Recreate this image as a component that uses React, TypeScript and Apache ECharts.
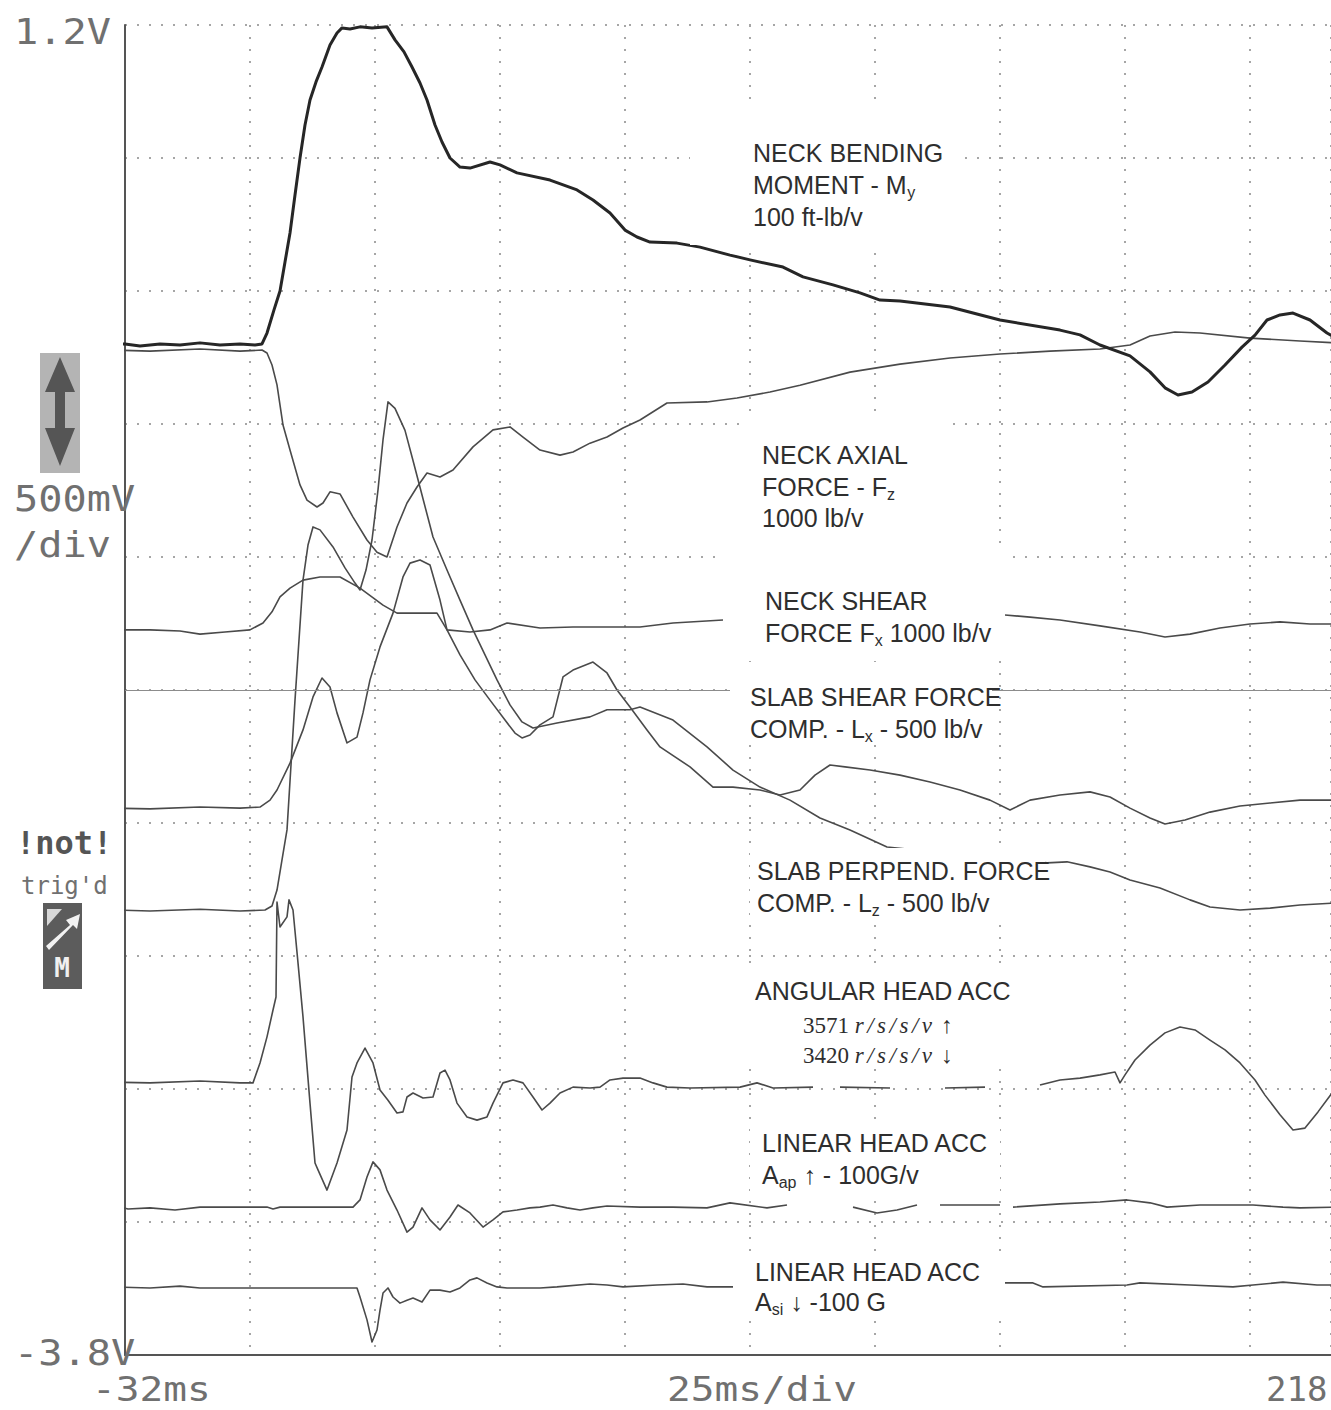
import React, { useEffect, useRef } from "react";
import * as echarts from "echarts";

// Oscilloscope axes
const X_MIN = -32;
const X_VIEW_MAX = 209.2; // right edge of the photographed screen (full screen ends at 218 ms)
const X_DIV = 25; // ms/div
const Y_MIN = -3.8;
const Y_MAX = 1.2;
const Y_DIV = 0.5; // V/div
const CENTER_V = -1.3;

// Traces: [time ms, volts]; null = gap in the trace
type P = [number, number] | null;

const neckBendingMy: P[] = [
  [-34.6, -0.003], [-32, 0.001], [-29, -0.007], [-25, 0.001], [-21, -0.003], [-17, 0.005], [-13, -0.003],
  [-9, 0.001], [-6, -0.003], [-4.6, 0.001], [-3.6, 0.042], [-2.2, 0.129], [-1, 0.2], [0, 0.309], [1, 0.418],
  [2, 0.561], [3, 0.7], [4, 0.824], [5, 0.918], [6.2, 0.986], [7.4, 1.042], [9, 1.125], [10.4, 1.17],
  [11.4, 1.189], [13, 1.185], [15, 1.193], [17.4, 1.189], [20.4, 1.193], [22, 1.144], [23.8, 1.099],
  [25.4, 1.042], [27, 0.982], [28.4, 0.918], [30, 0.824], [31.4, 0.76], [33, 0.7], [35, 0.666], [37, 0.662],
  [41, 0.685], [43, 0.674], [46.4, 0.644], [53, 0.617], [58.4, 0.58], [61.6, 0.542], [65, 0.493], [68, 0.429],
  [70.4, 0.403], [73, 0.384], [78.4, 0.38], [83, 0.365], [89, 0.335], [93, 0.317], [99.6, 0.29], [103.6, 0.253],
  [109.6, 0.223], [115, 0.193], [119, 0.166], [123, 0.162], [133, 0.14], [143, 0.091], [155, 0.053],
  [159, 0.035], [163, -0.003], [169, -0.044], [173, -0.104], [176, -0.164], [178.6, -0.191], [181.4, -0.18],
  [184.6, -0.142], [188, -0.078], [191.4, -0.011], [194, 0.034], [196.4, 0.091], [199, 0.11], [201.6, 0.117],
  [205, 0.091], [208.4, 0.042], [210, 0.025],
];

const neckAxialFz: P[] = [
  [-34.6, -0.022], [-27, -0.026], [-17, -0.018], [-9, -0.026], [-4.6, -0.022], [-3.6, -0.033], [-2.6, -0.078],
  [-1.6, -0.153], [-0.4, -0.304], [1, -0.398], [3, -0.529], [4.4, -0.586], [6.4, -0.612], [7.6, -0.597],
  [9, -0.555], [11, -0.563], [13.6, -0.65], [16.4, -0.736], [18.4, -0.782], [20.4, -0.8], [22.4, -0.687],
  [24.4, -0.597], [26.4, -0.537], [28.4, -0.484], [31, -0.499], [33.6, -0.473], [37.6, -0.386], [41.6, -0.322],
  [45, -0.311], [47.6, -0.349], [51, -0.398], [55, -0.417], [57.6, -0.405], [61, -0.372], [64.4, -0.349],
  [67.6, -0.315], [71, -0.285], [76.4, -0.221], [84.4, -0.217], [90.4, -0.202], [97, -0.18], [103, -0.154],
  [113, -0.105], [123, -0.075], [133, -0.052], [143, -0.037], [153, -0.026], [163, -0.018], [169, -0.003],
  [173, 0.031], [178, 0.046], [183, 0.042], [193, 0.023], [203, 0.012], [210, 0.005],
];

const neckShearFx: P[] = [
  [-34.6, -1.074], [-27, -1.074], [-21, -1.078], [-17, -1.09], [-12, -1.082], [-7, -1.074], [-4.4, -1.048],
  [-2.6, -1.006], [-1, -0.95], [1, -0.917], [3.6, -0.887], [7, -0.875], [11, -0.875], [15, -0.917],
  [19.6, -0.981], [22.4, -1.011], [30.4, -1.011], [32.4, -1.074], [37, -1.082], [41, -1.074], [44.4, -1.048],
  [51, -1.067], [57.6, -1.063], [71, -1.063], [77.6, -1.048], [87.6, -1.037], null,
  [144, -1.018], [149, -1.026], [155, -1.037], [163, -1.059], [171, -1.082], [176, -1.101], [181, -1.09],
  [187, -1.067], [193, -1.052], [199, -1.044], [205, -1.052], [210, -1.052],
];

const slabShearLx: P[] = [
  [-34.6, -1.744], [-27, -1.747], [-17, -1.74], [-9, -1.744], [-5, -1.74], [-3, -1.714], [-1.6, -1.676],
  [1, -1.575], [3.6, -1.45], [5.6, -1.326], [7.4, -1.255], [9, -1.289], [10.4, -1.386], [12.4, -1.499],
  [14.4, -1.477], [15.6, -1.386], [17, -1.262], [19, -1.138], [21.6, -1.011], [23.6, -0.875], [25, -0.823],
  [27, -0.811], [29, -0.83], [31, -0.962], [32.4, -1.074], [35, -1.168], [38, -1.262], [41, -1.338],
  [44, -1.413], [46, -1.462], [47.4, -1.48], [49, -1.469], [51, -1.431], [53.6, -1.401], [55.6, -1.251],
  [57.6, -1.225], [61.6, -1.195], [64.4, -1.236], [66.4, -1.3], [69, -1.364], [72.4, -1.45], [75, -1.514],
  [81, -1.589], [85.6, -1.665], [89.6, -1.665], [95, -1.676], [99, -1.695], [103, -1.676], [106, -1.62],
  [109, -1.582], [112, -1.589], [117, -1.601], [123, -1.62], [129, -1.646], [135, -1.676], [141, -1.714],
  [145, -1.751], [149, -1.714], [155, -1.695], [161, -1.683], [165, -1.702], [169, -1.744], [173, -1.781],
  [176, -1.804], [180, -1.789], [185, -1.759], [191, -1.736], [197, -1.725], [203, -1.714], [210, -1.714],
];

const slabPerpLz: P[] = [
  [-34.6, -2.127], [-27, -2.131], [-17, -2.124], [-9, -2.131], [-4, -2.127], [-2.6, -2.112], [-1.6, -2.052],
  [-0.6, -1.939], [0.4, -1.826], [1.2, -1.582], [2, -1.338], [2.8, -1.112], [3.6, -0.887], [4.6, -0.755],
  [5.6, -0.687], [7, -0.698], [9.6, -0.762], [12, -0.841], [14, -0.898], [15, -0.924], [16.2, -0.849],
  [17.4, -0.736], [18.6, -0.548], [19.6, -0.36], [20.6, -0.217], [22, -0.241], [24, -0.324], [25.6, -0.437],
  [27, -0.538], [29.6, -0.725], [32.4, -0.849], [35, -0.962], [37.6, -1.074], [40, -1.168], [42.4, -1.262],
  [45, -1.356], [47.4, -1.42], [49.6, -1.443], [54.4, -1.424], [61, -1.401], [64.4, -1.374], [69, -1.374],
  [71, -1.364], [77.6, -1.413], [84.4, -1.514], [89.6, -1.601], [95, -1.665], [101, -1.714], [107, -1.781],
  [113, -1.826], [120.4, -1.89], [152.4, -1.95], [156.4, -1.946], [161, -1.965], [165, -1.984], [169, -2.014],
  [175, -2.044], [181, -2.089], [185, -2.116], [191, -2.127], [197, -2.12], [203, -2.108], [210, -2.101],
];

const angularHeadAcc: P[] = [
  [-34.6, -2.774], [-27, -2.777], [-17, -2.77], [-9, -2.777], [-6.4, -2.777], [-5, -2.702], [-3.6, -2.604],
  [-2.4, -2.503], [-1.8, -2.454], [-1.6, -2.097], [-1, -2.191], [0.4, -2.153], [0.8, -2.089], [1.6, -2.127],
  [2.6, -2.326], [3.6, -2.529], [5, -2.853], [6, -3.078], [6.6, -3.104], [8.4, -3.18], [10.4, -3.078],
  [12.4, -2.954], [13.4, -2.755], [14.4, -2.702], [16, -2.646], [17.6, -2.702], [19, -2.804], [20.6, -2.842],
  [22.4, -2.89], [23.6, -2.886], [24.4, -2.83], [25.6, -2.815], [27.6, -2.834], [29.6, -2.83], [31, -2.74],
  [32, -2.729], [33, -2.766], [34.4, -2.853], [36.4, -2.905], [38.4, -2.917], [40.4, -2.905], [41.6, -2.853],
  [43.6, -2.777], [45.6, -2.766], [47.6, -2.777], [49.6, -2.83], [51.4, -2.879], [53, -2.853], [55, -2.815],
  [57.6, -2.793], [61, -2.796], [63, -2.793], [65, -2.766], [67.6, -2.759], [71, -2.759], [73.6, -2.777],
  [76.4, -2.793], [81, -2.796], [91, -2.793], [94.4, -2.777], [97.6, -2.796], [105.6, -2.793], null,
  [111, -2.793], [121, -2.796], null, [132, -2.796], [140, -2.793], null,
  [151, -2.785], [155, -2.766], [159, -2.759], [163, -2.747], [166, -2.736], [167, -2.777], [168, -2.747],
  [170, -2.691], [173, -2.635], [176, -2.589], [179, -2.567], [182, -2.578], [185, -2.616], [188, -2.653],
  [191, -2.702], [194, -2.766], [196, -2.823], [199, -2.897], [201.6, -2.954], [204, -2.947], [206.6, -2.886],
  [210, -2.8],
];

const linearHeadAap: P[] = [
  [-34.6, -3.236], [-31.4, -3.251], [-27, -3.247], [-22, -3.255], [-17, -3.244], [-9, -3.244], [-3.6, -3.244],
  [-2.4, -3.251], [-1, -3.244], [13.6, -3.244], [15, -3.217], [16.4, -3.131], [17.6, -3.074], [19, -3.104],
  [20.4, -3.18], [22.4, -3.255], [24.4, -3.338], [25.6, -3.319], [27.4, -3.247], [29, -3.292], [31, -3.33],
  [33, -3.281], [34.6, -3.236], [37, -3.266], [39.6, -3.319], [41.6, -3.292], [43.6, -3.262], [46.4, -3.255],
  [49, -3.247], [51, -3.244], [53.6, -3.236], [56.4, -3.247], [59, -3.255], [61.6, -3.247], [64.4, -3.24],
  [71, -3.244], [77.6, -3.244], [84.4, -3.247], [89, -3.228], [96.4, -3.247], [100.4, -3.236], null,
  [113.6, -3.244], [118.4, -3.266], [122.4, -3.255], [126.4, -3.236], null, [131, -3.236], [143, -3.236], null,
  [145.6, -3.244], [155, -3.232], [163, -3.225], [168.4, -3.217], [173, -3.228], [176.4, -3.244], [183, -3.236],
  [193.6, -3.236], [199.6, -3.244], [203, -3.247], [210, -3.244],
];

const linearHeadAsi: P[] = [
  [-34.6, -3.544], [-27, -3.548], [-21, -3.541], [-17, -3.548], [-9, -3.548], [14.4, -3.548], [15, -3.582],
  [16.4, -3.668], [17.4, -3.751], [18.4, -3.706], [19, -3.631], [19.6, -3.567], [20.6, -3.548], [21.6, -3.582],
  [23, -3.605], [24.4, -3.594], [25.6, -3.586], [27.4, -3.601], [29, -3.556], [31, -3.556], [33, -3.563],
  [35, -3.548], [37, -3.518], [38.4, -3.51], [40.4, -3.529], [42.4, -3.544], [44.4, -3.548], [51, -3.548],
  [54.4, -3.544], [61, -3.533], [64.4, -3.537], [67.6, -3.544], [74.4, -3.537], [79.6, -3.533], [84.4, -3.544],
  [89.6, -3.544], null, [143.6, -3.529], [149.6, -3.529], [151.6, -3.544], [168.4, -3.537], [171, -3.529],
  [181, -3.537], [189.6, -3.544], [193.6, -3.537], [199.6, -3.526], [206.4, -3.537], [210, -3.537],
];

// Scope annotation texts
const voltTop = "1.2V";
const voltBottom = "-3.8V";
const voltScale = "500mV";
const voltScale2 = "/div";
const timeStart = "-32ms";
const timeScale = "25ms/div";
const timeEnd = "218";

const MONO = "'DejaVu Sans Mono'";
const SANS = "'Liberation Sans'";
const SERIF = "'Liberation Serif'";
const F = `25px ${SANS}`;
const FS = `16px ${SANS}`;
const TXT = "#2e2e2e";
const SCOPE = "#707070";

type Piece = { t: string; f: string; dy?: number; ls?: number };

let measureCtx: CanvasRenderingContext2D | null = null;
function measure(text: string, font: string): number {
  if (!measureCtx) measureCtx = document.createElement("canvas").getContext("2d");
  if (!measureCtx) return text.length * 12;
  measureCtx.font = font;
  return measureCtx.measureText(text).width;
}

function textEl(x: number, y: number, text: string, font: string, fill: string, extra: any = {}) {
  return {
    type: "text",
    x,
    y,
    z: 60,
    silent: true,
    ...extra,
    style: {
      text,
      font,
      fill,
      align: extra.align || "left",
      textAlign: extra.align || "left",
      verticalAlign: "middle",
      textVerticalAlign: "middle",
    },
  };
}

function row(x0: number, y: number, pieces: Piece[], color = TXT) {
  const out: any[] = [];
  let x = x0;
  for (const p of pieces) {
    const chunks = p.ls ? p.t.split("") : [p.t];
    for (const ch of chunks) {
      out.push(textEl(x, y + (p.dy || 0), ch, p.f, color));
      x += measure(ch, p.f) + (p.ls || 0);
    }
  }
  return out;
}

function box(x: number, y: number, width: number, height: number) {
  return { type: "rect", z: 50, silent: true, shape: { x, y, width, height }, style: { fill: "#ffffff" } };
}

function toData(arr: P[]) {
  return arr.map((p) => (p === null ? ["-", "-"] : p));
}

function lineSeries(name: string, arr: P[], width: number, color: string, extra: any = {}) {
  return {
    name,
    type: "line",
    data: toData(arr),
    symbol: "none",
    showSymbol: false,
    clip: false,
    silent: true,
    connectNulls: false,
    z: 3,
    lineStyle: { width, color, join: "round" },
    ...extra,
  };
}

export default function App() {
  const ref = useRef<HTMLDivElement>(null);

  useEffect(() => {
    if (!ref.current) return;
    const chart = echarts.init(ref.current, undefined, { renderer: "svg" });

    const grid = { left: 125, top: 25, right: 0, height: 1330 };
    const dotted = { color: "#a6a6a6", width: 2, type: [2, 10] as any };

    const texts: any[] = [];
    // white label panels covering the grid and traces
    texts.push(box(690, 100, 275, 145));
    texts.push(box(745, 415, 205, 130));
    texts.push(box(725, 548, 278, 112));
    texts.push(box(730, 662, 262, 82));
    texts.push(box(750, 848, 295, 72));
    texts.push(box(745, 968, 290, 100));
    texts.push(box(750, 1125, 250, 72));
    texts.push(box(740, 1255, 265, 65));

    texts.push(...row(753, 153, [{ t: "NECK BENDING", f: F }]));
    texts.push(...row(753, 185, [{ t: "MOMENT - M", f: F }, { t: "y", f: FS, dy: 7 }]));
    texts.push(...row(753, 217, [{ t: "100 ft-lb/v", f: F }]));

    texts.push(...row(762, 455, [{ t: "NECK AXIAL", f: F }]));
    texts.push(...row(762, 487, [{ t: "FORCE - F", f: F }, { t: "z", f: FS, dy: 7 }]));
    texts.push(...row(762, 518, [{ t: "1000 lb/v", f: F }]));

    texts.push(...row(765, 601, [{ t: "NECK SHEAR", f: F }]));
    texts.push(...row(765, 633, [{ t: "FORCE F", f: F }, { t: "x", f: FS, dy: 7 }, { t: " 1000 lb/v", f: F }]));

    texts.push(...row(750, 697, [{ t: "SLAB SHEAR FORCE", f: F }]));
    texts.push(...row(750, 729, [{ t: "COMP. - L", f: F }, { t: "x", f: FS, dy: 7 }, { t: " - 500 lb/v", f: F }]));

    texts.push(...row(757, 871, [{ t: "SLAB PERPEND. FORCE", f: F }]));
    texts.push(...row(757, 903, [{ t: "COMP. - L", f: F }, { t: "z", f: FS, dy: 7 }, { t: " - 500 lb/v", f: F }]));

    texts.push(...row(755, 991, [{ t: "ANGULAR HEAD ACC", f: F }]));
    const SF = `23px ${SERIF}`;
    const SFI = `italic 23px ${SERIF}`;
    texts.push(...row(803, 1025, [{ t: "3571 ", f: SF }, { t: "r/s/s/v", f: SFI, ls: 3.5 }, { t: " ↑", f: SF }]));
    texts.push(...row(803, 1055, [{ t: "3420 ", f: SF }, { t: "r/s/s/v", f: SFI, ls: 3.5 }, { t: " ↓", f: SF }]));

    texts.push(...row(762, 1143, [{ t: "LINEAR HEAD ACC", f: F }]));
    texts.push(...row(762, 1175, [{ t: "A", f: F }, { t: "ap", f: FS, dy: 7 }, { t: " ↑ - 100G/v", f: F }]));

    texts.push(...row(755, 1272, [{ t: "LINEAR HEAD ACC", f: F }]));
    texts.push(...row(755, 1302, [{ t: "A", f: F }, { t: "si", f: FS, dy: 7 }, { t: " ↓ -100 G", f: F }]));

    // scope readouts
    const MF = `36px ${MONO}`;
    const MFB = `34px ${MONO}`;
    const sc = { scaleX: 1.12 };
    texts.push(textEl(14, 32, voltTop, MF, SCOPE, sc));
    texts.push(textEl(14, 499, voltScale, MF, SCOPE, sc));
    texts.push(textEl(14, 545, voltScale2, MF, SCOPE, sc));
    texts.push(textEl(16, 843, "!not!", `bold 32px ${MONO}`, "#555", {}));
    texts.push(textEl(21, 886, "trig'd", `24px ${MONO}`, SCOPE, {}));
    texts.push(textEl(14, 1353, voltBottom, MF, SCOPE, sc));
    texts.push(textEl(92, 1389, timeStart, MFB, SCOPE, { scaleX: 1.16 }));
    texts.push(textEl(667, 1389, timeScale, MFB, SCOPE, { scaleX: 1.16 }));
    texts.push(textEl(1266, 1389, timeEnd, MFB, SCOPE, {}));

    // volts/div arrow icon
    texts.push({ type: "rect", z: 55, silent: true, shape: { x: 40, y: 353, width: 40, height: 120 }, style: { fill: "#b4b4b4" } });
    texts.push({
      type: "polygon",
      z: 56,
      silent: true,
      shape: {
        points: [[60, 357], [75, 392], [65, 392], [65, 428], [75, 428], [60, 466], [45, 428], [55, 428], [55, 392], [45, 392]],
      },
      style: { fill: "#555" },
    });
    // trigger-mode icon
    texts.push({ type: "rect", z: 55, silent: true, shape: { x: 43, y: 903, width: 39, height: 86 }, style: { fill: "#5c5c5c" } });
    texts.push({
      type: "polygon",
      z: 56,
      silent: true,
      shape: { points: [[46, 946], [70, 925], [66, 920], [80, 914], [77, 929], [73, 925], [49, 950]] },
      style: { fill: "#f2f2f2" },
    });
    texts.push({
      type: "polygon",
      z: 56,
      silent: true,
      shape: { points: [[47, 909], [62, 909], [47, 926]] },
      style: { fill: "#d8d8d8" },
    });
    texts.push(textEl(62, 968, "M", `bold 26px ${MONO}`, "#f0f0f0", { align: "center" }));

    const option: any = {
      animation: false,
      backgroundColor: "#ffffff",
      grid,
      xAxis: {
        type: "value",
        min: X_MIN,
        max: X_VIEW_MAX,
        interval: X_DIV,
        axisLine: { show: true, onZero: false, lineStyle: { color: "#555", width: 2 } },
        axisTick: { show: false },
        axisLabel: { show: false },
        splitLine: { show: true, lineStyle: dotted },
      },
      yAxis: {
        type: "value",
        min: Y_MIN,
        max: Y_MAX,
        interval: Y_DIV,
        axisLine: { show: true, onZero: false, lineStyle: { color: "#555", width: 2 } },
        axisTick: { show: false },
        axisLabel: { show: false },
        splitLine: { show: true, lineStyle: dotted },
      },
      series: [
        lineSeries("Neck axial force Fz", neckAxialFz, 1.6, "#4a4a4a", {
          markLine: {
            silent: true,
            symbol: ["none", "none"],
            label: { show: false },
            lineStyle: { type: "solid", color: "#8c8c8c", width: 1.2 },
            data: [{ yAxis: CENTER_V }],
          },
        }),
        lineSeries("Neck shear force Fx", neckShearFx, 1.6, "#4a4a4a"),
        lineSeries("Slab shear force Lx", slabShearLx, 1.6, "#4a4a4a"),
        lineSeries("Slab perpendicular force Lz", slabPerpLz, 1.6, "#4a4a4a"),
        lineSeries("Angular head acc", angularHeadAcc, 1.6, "#4a4a4a"),
        lineSeries("Linear head acc Aap", linearHeadAap, 1.6, "#4a4a4a"),
        lineSeries("Linear head acc Asi", linearHeadAsi, 1.6, "#4a4a4a"),
        lineSeries("Neck bending moment My", neckBendingMy, 3, "#262626", { z: 4 }),
      ],
      graphic: { elements: texts },
    };

    chart.setOption(option);
    return () => chart.dispose();
  }, []);

  return (
    <div
      ref={ref}
      style={{ position: "absolute", left: 0, top: 0, width: 1331, height: 1410, background: "#fff" }}
    />
  );
}
